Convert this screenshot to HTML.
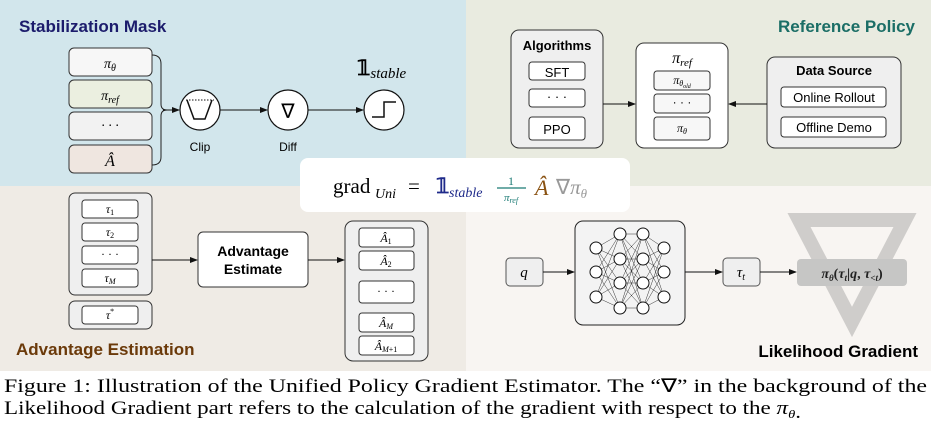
<!DOCTYPE html>
<html><head><meta charset="utf-8"><style>
html,body{margin:0;padding:0;background:#fff;}
svg{display:block;}
.t{font-family:"Liberation Sans",sans-serif;}
.m{font-family:"Liberation Serif",serif;font-style:italic;}
</style></head><body>
<svg width="931" height="432" viewBox="0 0 931 432" xmlns="http://www.w3.org/2000/svg">
<defs>
<marker id="ar" markerWidth="8" markerHeight="8" refX="7" refY="4" orient="auto" markerUnits="userSpaceOnUse">
<path d="M0,1 L8,4 L0,7 Z" fill="#111"/></marker>
</defs>
<rect x="0" y="0" width="466" height="186" fill="#d2e6ec"/>
<rect x="466" y="0" width="465" height="186" fill="#e9ebe0"/>
<rect x="0" y="186" width="466" height="185" fill="#efebe5"/>
<rect x="466" y="186" width="465" height="185" fill="#f8f5f2"/>

<text x="19" y="32" class="t" font-size="17" font-weight="bold" fill="#1c1c6c">Stabilization Mask</text>
<g stroke="#333" stroke-width="1">
<rect x="69" y="48" width="83" height="28" rx="5" fill="#f7f7f7"/>
<rect x="69" y="80" width="83" height="28" rx="5" fill="#ebefe0"/>
<rect x="69" y="112" width="83" height="28" rx="5" fill="#f2f2f2"/>
<rect x="69" y="145" width="83" height="28" rx="5" fill="#efe6e0"/>
</g>
<text x="110" y="68" class="m" font-size="14" text-anchor="middle">π<tspan font-size="10" dy="3">θ</tspan></text>
<text x="110" y="100" class="m" font-size="14" text-anchor="middle">π<tspan font-size="10" dy="3">ref</tspan></text>
<text x="110" y="130" class="m" font-size="14" text-anchor="middle" font-style="normal">· · ·</text>
<text x="110" y="166" class="m" font-size="16" text-anchor="middle">Â</text>
<path d="M152,55 Q161,55 161,64 L161,104 Q161,110 167,110 Q161,110 161,116 L161,157 Q161,165 152,165" fill="none" stroke="#222" stroke-width="1"/>
<line x1="163" y1="110" x2="179" y2="110" stroke="#111" marker-end="url(#ar)"/>
<circle cx="200" cy="110" r="20" fill="#fff" stroke="#111" stroke-width="1.2"/>
<path d="M187,100 L194,119 L205,119 L212,100" fill="none" stroke="#111" stroke-width="1.5"/>
<line x1="186" y1="100" x2="214" y2="100" stroke="#111" stroke-dasharray="1.5,1.5"/>
<line x1="220" y1="110" x2="267" y2="110" stroke="#111" marker-end="url(#ar)"/>
<circle cx="288" cy="110" r="20" fill="#fff" stroke="#111" stroke-width="1.2"/>
<text x="288" y="118" font-family="DejaVu Sans" font-size="20" text-anchor="middle">∇</text>
<line x1="308" y1="110" x2="363" y2="110" stroke="#111" marker-end="url(#ar)"/>
<circle cx="384" cy="110" r="20" fill="#fff" stroke="#111" stroke-width="1.2"/>
<path d="M372,117 L384,117 L384,102 L396,102" fill="none" stroke="#111" stroke-width="1.5"/>
<text x="200" y="151" class="t" font-size="12" text-anchor="middle">Clip</text>
<text x="288" y="151" class="t" font-size="12" text-anchor="middle">Diff</text>
<text x="357" y="75" font-family="Liberation Serif" font-size="21" font-weight="bold">𝟙<tspan font-style="italic" font-weight="normal" font-size="15" dy="3">stable</tspan></text>

<text x="915" y="32" class="t" font-size="17" font-weight="bold" fill="#1b6e66" text-anchor="end">Reference Policy</text>
<g stroke="#333" stroke-width="1">
<rect x="511" y="30" width="92" height="118" rx="8" fill="#efefef"/>
<rect x="529" y="62" width="56" height="18" rx="3" fill="#fff"/>
<rect x="529" y="89" width="56" height="18" rx="3" fill="#fff"/>
<rect x="529" y="117" width="56" height="23" rx="3" fill="#fff"/>
<rect x="636" y="43" width="92" height="105" rx="8" fill="#fff"/>
<rect x="654" y="71" width="56" height="19" rx="3" fill="#f7f7f7"/>
<rect x="654" y="94" width="56" height="19" rx="3" fill="#f7f7f7"/>
<rect x="654" y="117" width="56" height="23" rx="3" fill="#f7f7f7"/>
<rect x="767" y="57" width="134" height="91" rx="8" fill="#efefef"/>
<rect x="781" y="87" width="105" height="20" rx="3" fill="#fff"/>
<rect x="781" y="117" width="105" height="20" rx="3" fill="#fff"/>
</g>
<text x="557" y="50" class="t" font-size="13" font-weight="bold" text-anchor="middle">Algorithms</text>
<text x="557" y="77" class="t" font-size="13" text-anchor="middle">SFT</text>
<text x="557" y="101" class="t" font-size="13" text-anchor="middle">· · ·</text>
<text x="557" y="134" class="t" font-size="13" text-anchor="middle">PPO</text>
<text x="682" y="63" class="m" font-size="16" text-anchor="middle">π<tspan font-size="11" dy="3">ref</tspan></text>
<text x="682" y="84" class="m" font-size="12" text-anchor="middle">π<tspan font-size="8" dy="2">θ<tspan font-size="6" dy="2">old</tspan></tspan></text>
<text x="682" y="106" class="t" font-size="12" text-anchor="middle">· · ·</text>
<text x="682" y="132" class="m" font-size="12" text-anchor="middle">π<tspan font-size="8" dy="2">θ</tspan></text>
<text x="834" y="75" class="t" font-size="13" font-weight="bold" text-anchor="middle">Data Source</text>
<text x="834" y="102" class="t" font-size="13" text-anchor="middle">Online Rollout</text>
<text x="834" y="132" class="t" font-size="13" text-anchor="middle">Offline Demo</text>
<line x1="603" y1="104" x2="635" y2="104" stroke="#111" marker-end="url(#ar)"/>
<line x1="767" y1="104" x2="729" y2="104" stroke="#111" marker-end="url(#ar)"/>

<g stroke="#333" stroke-width="1">
<rect x="69" y="193" width="83" height="102" rx="6" fill="#efefef"/>
<rect x="82" y="200" width="56" height="18" rx="3" fill="#fff"/>
<rect x="82" y="223" width="56" height="18" rx="3" fill="#fff"/>
<rect x="82" y="246" width="56" height="18" rx="3" fill="#fff"/>
<rect x="82" y="269" width="56" height="18" rx="3" fill="#fff"/>
<rect x="69" y="301" width="83" height="28" rx="6" fill="#efefef"/>
<rect x="82" y="306" width="56" height="18" rx="3" fill="#fff"/>
<rect x="198" y="232" width="110" height="55" rx="5" fill="#fff"/>
<rect x="345" y="221" width="83" height="140" rx="8" fill="#efefef"/>
<rect x="359" y="228" width="55" height="19" rx="3" fill="#fff"/>
<rect x="359" y="251" width="55" height="19" rx="3" fill="#fff"/>
<rect x="359" y="281" width="55" height="22" rx="3" fill="#fff"/>
<rect x="359" y="313" width="55" height="19" rx="3" fill="#fff"/>
<rect x="359" y="336" width="55" height="19" rx="3" fill="#fff"/>
</g>
<g class="m" font-size="12" text-anchor="middle">
<text x="110" y="213">τ<tspan font-size="8" dy="2" font-style="normal">1</tspan></text>
<text x="110" y="236">τ<tspan font-size="8" dy="2" font-style="normal">2</tspan></text>
<text x="110" y="258" font-style="normal">· · ·</text>
<text x="110" y="282">τ<tspan font-size="8" dy="2">M</tspan></text>
<text x="110" y="319">τ<tspan font-size="8" dy="-5" font-style="normal">*</tspan></text>
<text x="386" y="242">Â<tspan font-size="8" dy="2" font-style="normal">1</tspan></text>
<text x="386" y="265">Â<tspan font-size="8" dy="2" font-style="normal">2</tspan></text>
<text x="386" y="295" font-style="normal">· · ·</text>
<text x="386" y="327">Â<tspan font-size="8" dy="2">M</tspan></text>
<text x="386" y="350">Â<tspan font-size="8" dy="2">M<tspan font-style="normal">+1</tspan></tspan></text>
</g>
<text x="253" y="256" class="t" font-size="14" font-weight="bold" text-anchor="middle">Advantage</text>
<text x="253" y="274" class="t" font-size="14" font-weight="bold" text-anchor="middle">Estimate</text>
<line x1="152" y1="260" x2="197" y2="260" stroke="#111" marker-end="url(#ar)"/>
<line x1="308" y1="260" x2="344" y2="260" stroke="#111" marker-end="url(#ar)"/>
<text x="16" y="355" class="t" font-size="17" font-weight="bold" fill="#6b3a0a">Advantage Estimation</text>

<path d="M799,220 L905,220 L852,322 Z" fill="none" stroke="#cfcdcb" stroke-width="14" stroke-linejoin="miter"/>
<g stroke="#555" stroke-width="1">
<rect x="506" y="258" width="37" height="28" rx="4" fill="#efefef"/>
<rect x="575" y="221" width="110" height="104" rx="8" fill="#f3f3f3" stroke="#222"/>
<rect x="723" y="258" width="37" height="28" rx="4" fill="#efefef"/>
</g>
<rect x="797" y="259" width="110" height="27" rx="4" fill="#c6c6c5"/>
<text x="524" y="277" class="m" font-size="15" text-anchor="middle">q</text>
<text x="741" y="277" class="m" font-size="15" text-anchor="middle">τ<tspan font-size="10" dy="3">t</tspan></text>
<text x="852" y="278" class="m" font-size="14" font-weight="bold" text-anchor="middle" fill="#222">π<tspan font-size="9" dy="3">θ</tspan><tspan dy="-3" font-style="normal">(</tspan>τ<tspan font-size="9" dy="3">t</tspan><tspan dy="-3" font-style="normal">|</tspan>q<tspan font-style="normal">, </tspan>τ<tspan font-size="9" dy="3">&lt;t</tspan><tspan dy="-3" font-style="normal">)</tspan></text>
<line x1="543" y1="272" x2="574" y2="272" stroke="#111" marker-end="url(#ar)"/>
<line x1="685" y1="272" x2="722" y2="272" stroke="#111" marker-end="url(#ar)"/>
<line x1="760" y1="272" x2="796" y2="272" stroke="#111" marker-end="url(#ar)"/>
<g stroke="#333" stroke-width="0.5">
<path d="M596,248L620,234M596,248L620,259M596,248L620,283M596,248L620,308M596,272L620,234M596,272L620,259M596,272L620,283M596,272L620,308M596,297L620,234M596,297L620,259M596,297L620,283M596,297L620,308
M620,234L643,234M620,234L643,259M620,234L643,283M620,234L643,308M620,259L643,234M620,259L643,259M620,259L643,283M620,259L643,308M620,283L643,234M620,283L643,259M620,283L643,283M620,283L643,308M620,308L643,234M620,308L643,259M620,308L643,283M620,308L643,308
M643,234L664,248M643,234L664,272M643,234L664,297M643,259L664,248M643,259L664,272M643,259L664,297M643,283L664,248M643,283L664,272M643,283L664,297M643,308L664,248M643,308L664,272M643,308L664,297"/>
</g>
<g fill="#fff" stroke="#111" stroke-width="1">
<circle cx="596" cy="248" r="6"/><circle cx="596" cy="272" r="6"/><circle cx="596" cy="297" r="6"/>
<circle cx="620" cy="234" r="6"/><circle cx="620" cy="259" r="6"/><circle cx="620" cy="283" r="6"/><circle cx="620" cy="308" r="6"/>
<circle cx="643" cy="234" r="6"/><circle cx="643" cy="259" r="6"/><circle cx="643" cy="283" r="6"/><circle cx="643" cy="308" r="6"/>
<circle cx="664" cy="248" r="6"/><circle cx="664" cy="272" r="6"/><circle cx="664" cy="297" r="6"/>
</g>
<text x="918" y="357" class="t" font-size="17" font-weight="bold" text-anchor="end">Likelihood Gradient</text>

<rect x="300" y="158" width="330" height="54" rx="8" fill="#fff"/>
<text x="333" y="193" font-family="Liberation Serif" font-size="21">grad</text>
<text x="375" y="198" class="m" font-size="14">Uni</text>
<text x="408" y="193" font-family="Liberation Serif" font-size="21">=</text>
<text x="436" y="193" font-family="Liberation Serif" font-size="21" font-weight="bold" fill="#1e2a8a">𝟙</text>
<text x="449" y="197" class="m" font-size="14" fill="#1e2a8a">stable</text>
<text x="511" y="185" font-family="Liberation Serif" font-size="12" fill="#1a7a74" text-anchor="middle">1</text>
<line x1="497" y1="188" x2="526" y2="188" stroke="#1a7a74" stroke-width="1.3"/>
<text x="511" y="201" class="m" font-size="11" fill="#1a7a74" text-anchor="middle">π<tspan font-size="8" dy="2">ref</tspan></text>
<text x="535" y="195" class="m" font-size="22" fill="#8a5212">Â</text>
<text x="556" y="194" font-family="Liberation Serif" font-size="21" fill="#999">∇<tspan font-style="italic">π</tspan><tspan font-style="italic" font-size="13" dy="4">θ</tspan></text>

<text x="4" y="392" font-family="Liberation Serif" font-size="19" textLength="923" lengthAdjust="spacingAndGlyphs">Figure 1: Illustration of the Unified Policy Gradient Estimator. The “∇” in the background of the</text>
<text x="4" y="414" font-family="Liberation Serif" font-size="19" textLength="797" lengthAdjust="spacingAndGlyphs">Likelihood Gradient part refers to the calculation of the gradient with respect to the <tspan font-style="italic">π<tspan font-size="12" dy="4">θ</tspan></tspan>.</text>
</svg>
</body></html>
